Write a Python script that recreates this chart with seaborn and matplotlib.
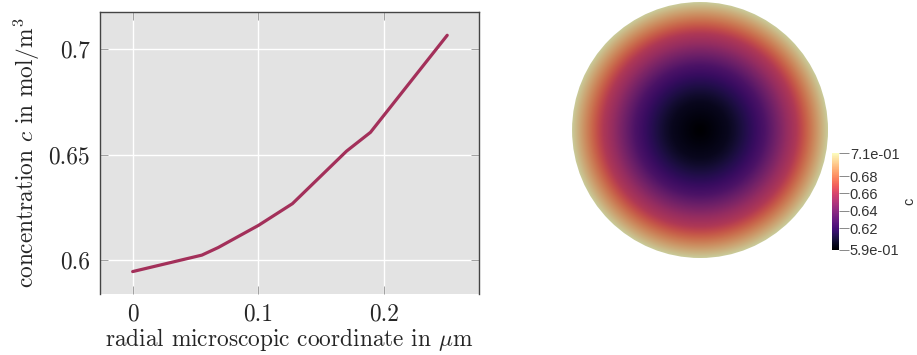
import numpy as np
import pandas as pd
import matplotlib
matplotlib.use("Agg")
import matplotlib.pyplot as plt
from matplotlib.colors import ListedColormap
from matplotlib.patches import Circle
import seaborn as sns

# radial concentration profile
radius = [0.0, 0.055, 0.068, 0.100, 0.127, 0.170, 0.189, 0.250]
conc = [0.5946, 0.6024, 0.6060, 0.6165, 0.6268, 0.6517, 0.6606, 0.7066]
xticks = [0, 0.1, 0.2]
xtick_labels = ["0", "0.1", "0.2"]
yticks = [0.6, 0.65, 0.7]
ytick_labels = ["0.6", "0.65", "0.7"]
cbar_ticks = [0.62, 0.64, 0.66, 0.68]

sns.set_theme(style="darkgrid")
plt.rcParams["font.family"] = "serif"
plt.rcParams["font.serif"] = ["cmr10", "DejaVu Serif"]
plt.rcParams["mathtext.fontset"] = "cm"
plt.rcParams["axes.unicode_minus"] = False

df = pd.DataFrame({"r": radius, "c": conc})

fig = plt.figure(figsize=(9.17, 3.55), dpi=100)

# left: line profile
ax = fig.add_axes([0.109, 0.172, 0.413, 0.794])
ax.set_facecolor("#e3e3e3")
sns.lineplot(data=df, x="r", y="c", ax=ax, color="#a3305a", linewidth=2.3)
ax.set_xlim(-0.026, 0.275)
ax.set_ylim(0.584, 0.7176)
ax.set_xticks(xticks)
ax.set_xticklabels(xtick_labels)
ax.set_yticks(yticks)
ax.set_yticklabels(ytick_labels)
ax.grid(True, color="white", linewidth=1.0)
ax.tick_params(axis="both", direction="in", length=6, width=0.7, color="#a0a0a0",
               labelsize=16.8, pad=7, top=True, right=True, bottom=True, left=True)
for side in ["left", "top", "right"]:
    ax.spines[side].set_visible(True)
    ax.spines[side].set_color("#444444")
    ax.spines[side].set_linewidth(1.0)
ax.spines["bottom"].set_visible(False)
ax.set_xlabel(r"radial microscopic coordinate in $\mu$m", fontsize=16.8, labelpad=0)
ax.set_ylabel(r"concentration $c$ in $\mathrm{mol/m}^3$", fontsize=16.8, labelpad=5)

# right: disk coloured by concentration
vmin, vmax = min(conc), max(conc)
base = plt.get_cmap("magma")
cols = base(np.linspace(0, 1, 256))
cols[:, :3] = cols[:, :3] * 0.8
disk_cmap = ListedColormap(cols)

n = 500
g = np.linspace(-max(radius), max(radius), n)
X, Y = np.meshgrid(g, g)
R = np.sqrt(X ** 2 + Y ** 2)
C = np.interp(R, radius, conc)

axd = fig.add_axes([0.6238, 0.2732, 0.2792, 0.7211])
im = axd.imshow(C, extent=[g[0], g[-1], g[0], g[-1]], origin="lower",
                cmap=disk_cmap, vmin=vmin, vmax=vmax, interpolation="bilinear")
clip = Circle((0, 0), max(radius), transform=axd.transData)
im.set_clip_path(clip)
axd.set_xlim(g[0], g[-1])
axd.set_ylim(g[0], g[-1])
axd.set_aspect("equal")
axd.axis("off")

# colour bar
cax = fig.add_axes([0.9078, 0.2958, 0.0068, 0.273])
sm = plt.cm.ScalarMappable(cmap="magma", norm=plt.Normalize(vmin, vmax))
cb = fig.colorbar(sm, cax=cax)
cb.outline.set_visible(False)
ticks = [vmin] + cbar_ticks + [vmax]
labels = [f"{vmin:.1e}"] + [f"{t:.2f}" for t in cbar_ticks] + [f"{vmax:.1e}"]
cb.set_ticks(ticks)
cb.set_ticklabels(labels)
cax.tick_params(length=7, width=0.7, color="#888888", pad=1, labelsize=10.5,
                labelcolor="#333333")
for t in cax.get_yticklabels():
    t.set_family("Liberation Sans")
cax.set_ylabel("c", family="Liberation Sans", fontsize=10.5, color="#333333",
               labelpad=2)

fig.savefig("out.png", dpi=100)
